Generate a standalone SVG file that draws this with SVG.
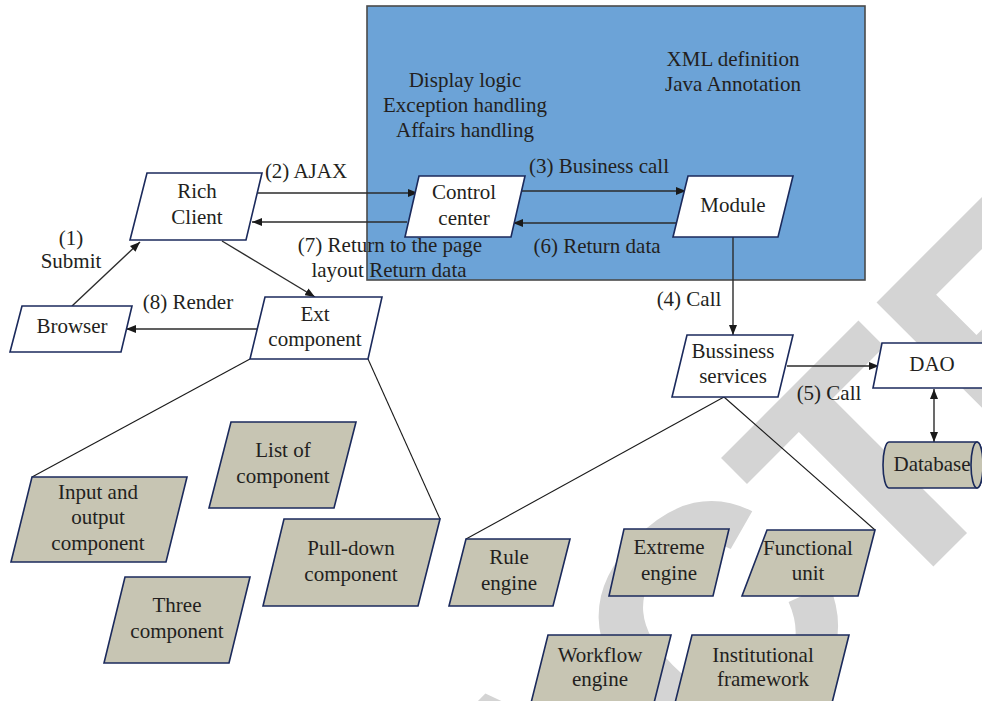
<svg xmlns="http://www.w3.org/2000/svg" width="982" height="701" viewBox="0 0 982 701">
  <style>
    .t { font-family: "Liberation Serif", "Times New Roman", serif; font-size: 21px; fill: #231f20; text-anchor: middle; }
    .wnode { fill: #ffffff; stroke: #1b2a5c; stroke-width: 1.6; }
    .gnode { fill: #c7c5b3; stroke: #1b2a5c; stroke-width: 1.6; }
    .arrow { stroke: #2b2b2b; stroke-width: 1.4; fill: none; marker-end: url(#ah); }
    .tree { stroke: #1a1a1a; stroke-width: 1.1; fill: none; }
    .mark { font-family: "Liberation Sans", Arial, sans-serif; font-weight: bold; font-size: 330px; fill: #d4d4d4; }
  </style>
  <defs>
    <marker id="ah" viewBox="0 0 10 8" refX="10" refY="4" markerWidth="10" markerHeight="8" markerUnits="userSpaceOnUse" orient="auto-start-reverse">
      <path d="M0,0 L10,4 L0,8 Z" fill="#1a1a1a"/>
    </marker>
  </defs>

  <rect width="982" height="701" fill="#ffffff"/>

  <!-- diagonal stamp behind the drawing -->
  <text class="mark" transform="translate(-93.3 1593.3) rotate(-45)" x="0" y="0">RETRACTED</text>

  <!-- framework container -->
  <g id="framework">
    <rect x="367" y="6" width="498" height="274" fill="#6ca3d7" stroke="#4a4a4a" stroke-width="1.6"/>
    <text class="t" x="465" y="87">Display logic</text>
    <text class="t" x="465" y="112">Exception handling</text>
    <text class="t" x="465" y="137">Affairs handling</text>
    <text class="t" x="733" y="66">XML definition</text>
    <text class="t" x="733" y="91">Java Annotation</text>
  </g>

  <!-- connectors -->
  <g id="connectors">
    <line class="arrow" x1="72" y1="306" x2="140" y2="242"/>
    <line class="arrow" x1="258" y1="193" x2="418" y2="193"/>
    <line class="arrow" x1="407" y1="222" x2="252" y2="222"/>
    <line class="arrow" x1="222" y1="241" x2="315" y2="297"/>
    <line class="arrow" x1="257" y1="329" x2="126" y2="329"/>
    <line class="arrow" x1="520" y1="191" x2="686" y2="191"/>
    <line class="arrow" x1="676" y1="223" x2="513" y2="223"/>
    <line class="arrow" x1="733" y1="237" x2="733" y2="335"/>
    <line class="arrow" x1="787" y1="366" x2="879" y2="366"/>
    <line class="arrow" x1="934" y1="389" x2="934" y2="442" style="marker-start:url(#ah)"/>
    <line class="tree" x1="250" y1="359" x2="32" y2="477"/>
    <line class="tree" x1="368" y1="359" x2="440" y2="519"/>
    <line class="tree" x1="724" y1="397" x2="466" y2="539"/>
    <line class="tree" x1="724" y1="397" x2="875" y2="530"/>
    <text class="t" x="306" y="178">(2) AJAX</text>
    <text class="t" x="71" y="245">(1)</text>
    <text class="t" x="71" y="268">Submit</text>
    <text class="t" x="390" y="252">(7) Return to the page</text>
    <text class="t" x="389" y="277">layout Return data</text>
    <text class="t" x="188" y="309">(8) Render</text>
    <text class="t" x="599" y="173">(3) Business call</text>
    <text class="t" x="597" y="253">(6) Return data</text>
    <text class="t" x="689" y="306">(4) Call</text>
    <text class="t" x="829" y="400">(5) Call</text>
  </g>

  <g id="rich-client">
    <polygon class="wnode" points="147,173 262,173 246,240 130,240"/>
    <text class="t" x="197" y="198">Rich</text>
    <text class="t" x="197" y="224">Client</text>
  </g>
  <g id="browser">
    <polygon class="wnode" points="22,306 132,306 121,352 10,352"/>
    <text class="t" x="72" y="333">Browser</text>
  </g>
  <g id="ext-component">
    <polygon class="wnode" points="265,297 382,297 368,359 250,359"/>
    <text class="t" x="315" y="321">Ext</text>
    <text class="t" x="315" y="346">component</text>
  </g>
  <g id="control-center">
    <polygon class="wnode" points="419,176 525,176 511,237 405,237"/>
    <text class="t" x="464" y="199">Control</text>
    <text class="t" x="464" y="225">center</text>
  </g>
  <g id="module">
    <polygon class="wnode" points="688,176 793,176 778,237 673,237"/>
    <text class="t" x="733" y="212">Module</text>
  </g>
  <g id="business-services">
    <polygon class="wnode" points="687,335 793,335 778,397 672,397"/>
    <text class="t" x="733" y="358">Bussiness</text>
    <text class="t" x="733" y="383">services</text>
  </g>
  <g id="dao">
    <polygon class="wnode" points="882,343 995,343 986,388 873,388"/>
    <text class="t" x="932" y="371">DAO</text>
  </g>
  <g id="database">
    <path class="gnode" d="M889,442 L977,442 A6,23 0 0 1 977,488 L889,488 A6,23 0 0 1 889,442 Z"/>
    <ellipse class="gnode" cx="977" cy="465" rx="6" ry="23"/>
    <text class="t" x="932" y="471">Database</text>
  </g>

  <g id="input-output-component">
    <polygon class="gnode" points="32,477 187,477 166,562 11,562"/>
    <text class="t" x="98" y="499">Input and</text>
    <text class="t" x="98" y="524">output</text>
    <text class="t" x="98" y="550">component</text>
  </g>
  <g id="list-component">
    <polygon class="gnode" points="231,422 356,422 334,508 209,508"/>
    <text class="t" x="283" y="457">List of</text>
    <text class="t" x="283" y="483">component</text>
  </g>
  <g id="three-component">
    <polygon class="gnode" points="125,577 250,577 229,663 104,663"/>
    <text class="t" x="177" y="612">Three</text>
    <text class="t" x="177" y="638">component</text>
  </g>
  <g id="pulldown-component">
    <polygon class="gnode" points="284,519 440,519 418,606 263,606"/>
    <text class="t" x="351" y="555">Pull-down</text>
    <text class="t" x="351" y="581">component</text>
  </g>
  <g id="rule-engine">
    <polygon class="gnode" points="466,539 570,539 553,606 449,606"/>
    <text class="t" x="509" y="564">Rule</text>
    <text class="t" x="509" y="590">engine</text>
  </g>
  <g id="extreme-engine">
    <polygon class="gnode" points="624,529 729,529 713,596 609,596"/>
    <text class="t" x="669" y="554">Extreme</text>
    <text class="t" x="669" y="580">engine</text>
  </g>
  <g id="functional-unit">
    <polygon class="gnode" points="767,530 875,530 858,596 742,596"/>
    <text class="t" x="808" y="555">Functional</text>
    <text class="t" x="808" y="580">unit</text>
  </g>
  <g id="workflow-engine">
    <polygon class="gnode" points="548,635 671,635 654,703 531,703"/>
    <text class="t" x="600" y="662">Workflow</text>
    <text class="t" x="600" y="686">engine</text>
  </g>
  <g id="institutional-framework">
    <polygon class="gnode" points="692,635 849,635 832,703 675,703"/>
    <text class="t" x="763" y="662">Institutional</text>
    <text class="t" x="763" y="686">framework</text>
  </g>
</svg>
